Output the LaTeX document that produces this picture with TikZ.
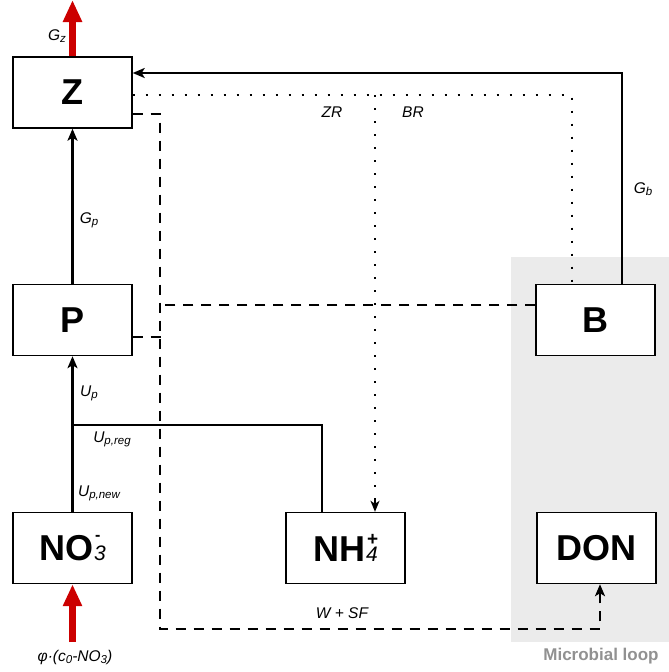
\documentclass[tikz,border=0pt]{standalone}
\usepackage{fontspec}
\setmainfont{Liberation Sans}
\usetikzlibrary{arrows.meta,calc}
\definecolor{loopgray}{RGB}{235,235,235}
\definecolor{labgray}{RGB}{145,145,145}
\definecolor{fluxred}{RGB}{204,0,0}
\newcommand{\sbs}[1]{{\fontsize{11.5}{11.5}\selectfont\raisebox{-2pt}{#1}}}
\newcommand{\chemlab}[5]{#1\kern1pt\rlap{\kern1pt\raisebox{#4}{\fontsize{#5}{#5}\selectfont #2}}{\fontsize{21}{21}\selectfont\mdseries\itshape #3}}
\tikzset{
  box/.style={draw, line width=1.4pt, fill=white, minimum width=119pt, minimum height=71pt, inner sep=0pt,
    font=\fontsize{36}{36}\selectfont\bfseries},
  flow/.style={line width=2.2pt, -{Stealth[length=12pt,width=10pt,inset=3pt]}},
  plainline/.style={line width=2.2pt},
  dotline/.style={line width=2.2pt, dash pattern=on 2pt off 11pt},
  dashline/.style={line width=2.2pt, dash pattern=on 10pt off 8pt},
  redflow/.style={draw=fluxred, line width=6.5pt, -{Triangle[length=22pt,width=18pt]}, fluxred},
  lab/.style={font=\fontsize{15.5}{15.5}\selectfont\itshape, inner sep=0pt}
}
\begin{document}
\begin{tikzpicture}[x=1pt,y=-1pt]
\useasboundingbox (0,0) rectangle (669,672);
% microbial loop background
\fill[loopgray] (511,257) rectangle (669,642);
\node[font=\fontsize{17}{17}\selectfont\bfseries, text=labgray, inner sep=0pt] (ml) at (601,656) {Microbial loop};

% boxes
\node[box] (z) at (72.5,92.5) {Z};
\node[box] (p) at (72.5,320) {P};
\node[box] (no3) at (72.5,548) {\chemlab{NO}{-}{3}{20pt}{16}};
\node[box] (nh4) at (345.5,548) {\chemlab{NH}{+}{4}{16pt}{19}};
\node[box] (b) at (595.5,320) {B};
\node[box] (don) at (596.5,548) {DON};

% coordinates
\coordinate (j) at (72.5,425);
\coordinate (zr) at (375,95);
\coordinate (dc) at (160,629);
\coordinate (rtop) at (72.5,0);
\coordinate (rbot) at (72.5,642);

% solid flows
\draw[flow] (p.north) -- (z.south);
\draw[flow] (no3.north) -- (p.south);
\draw[plainline] ([xshift=-23.5pt]nh4.north) |- (j);
\draw[flow] ([xshift=26.5pt]b.north) |- ([yshift=19.5pt]z.east);

% dotted
\draw[dotline] ([yshift=-2.5pt]z.east) -| ([xshift=-23.5pt]b.north);
\draw[dotline] (zr) -- ([yshift=12pt]nh4.north -| zr);
\draw[-{Stealth[length=11pt,width=9pt,inset=3pt]}, line width=1.5pt] ([yshift=12pt]nh4.north -| zr) -- (nh4.north -| zr);

% dashed
\draw[dashline] ([yshift=-21.5pt]z.east) -| (dc) -| ([xshift=3.5pt,yshift=-12pt]don.south);
\draw[-{Stealth[length=12pt,width=10pt,inset=3pt]}, line width=2.2pt] ([xshift=3.5pt,yshift=-12pt]don.south) -- ([xshift=3.5pt]don.south);
\draw[dashline] ([yshift=-17pt]p.east) -- ++(28,0);
\draw[dashline] ([yshift=15pt]b.west) -- ++(-376,0);

% red fluxes
\draw[redflow] (z.north) -- (rtop);
\draw[redflow] (rbot) -- (no3.south);

% labels
\node[lab] at (57,36) {G\sbs{z}};
\node[lab] at (89,220) {G\sbs{p}};
\node[lab] at (643,189) {G\sbs{b}};
\node[lab] at (332,112) {ZR};
\node[lab] at (413,112) {BR};
\node[lab] at (89,393) {U\sbs{p}};
\node[lab] at (112,439) {U\sbs{p,reg}};
\node[lab] at (99,493) {U\sbs{p,new}};
\node[lab] at (342,613) {W + SF};
\node[lab] at (75,657) {φ·(c\sbs{0}-NO\sbs{3})};
\end{tikzpicture}
\end{document}
